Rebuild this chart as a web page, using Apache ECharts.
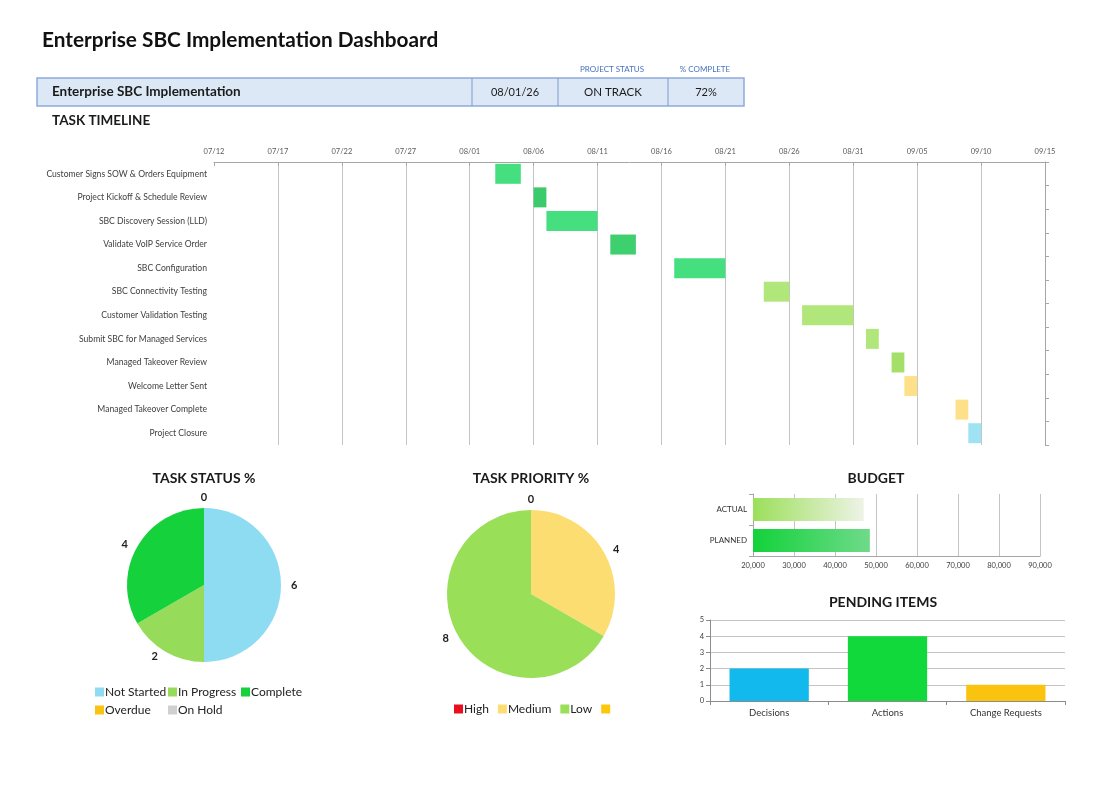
<!DOCTYPE html>
<html>
<head>
<meta charset="utf-8">
<title>Enterprise SBC Implementation Dashboard</title>
<script src="https://cdn.jsdelivr.net/npm/echarts@6/dist/echarts.min.js"></script>
<style>
  html, body { margin: 0; padding: 0; background: #ffffff; }
  #chart-container { width: 1100px; height: 788px; }
</style>
</head>
<body>
<div id="chart-container"></div>
<script>
var dom = document.getElementById("chart-container");
var myChart = echarts.init(dom, null, { renderer: "canvas" });

var FONT = "Lato";

// header row
var projectName = "Enterprise SBC Implementation";
var projectDate = "08/01/26";
var projectStatus = "ON TRACK";
var projectComplete = "72%";

// task timeline
var tasks = [
  "Customer Signs SOW & Orders Equipment",
  "Project Kickoff & Schedule Review",
  "SBC Discovery Session (LLD)",
  "Validate VoIP Service Order",
  "SBC Configuration",
  "SBC Connectivity Testing",
  "Customer Validation Testing",
  "Submit SBC for Managed Services",
  "Managed Takeover Review",
  "Welcome Letter Sent",
  "Managed Takeover Complete",
  "Project Closure"
];
var taskStart = [
  "2026-08-03", "2026-08-06", "2026-08-07", "2026-08-12", "2026-08-17", "2026-08-24",
  "2026-08-27", "2026-09-01", "2026-09-03", "2026-09-04", "2026-09-08", "2026-09-09"
];
var taskEnd = [
  "2026-08-05", "2026-08-07", "2026-08-11", "2026-08-14", "2026-08-21", "2026-08-26",
  "2026-08-31", "2026-09-02", "2026-09-04", "2026-09-05", "2026-09-09", "2026-09-10"
];
var timelineStart = "2026-07-12";
var timelineEnd = "2026-09-15";
var taskColors = [
  "#45DF80", "#3BCB6C", "#45DF80", "#3ECF6F", "#45DF80", "#B1E67A",
  "#B1E67A", "#B1E67A", "#A3DF69", "#FFE08A", "#FFE08A", "#9FE2F3"
];

// task status pie
var statusNames = ["Not Started", "In Progress", "Complete", "Overdue", "On Hold"];
var statusValues = [6, 2, 4, 0, 0];
var statusColors = ["#8EDCF2", "#96DC5A", "#14D13C", "#F9C311", "#D0D0D0"];

// task priority pie
var priorityNames = ["High", "Medium", "Low", " "];
var priorityValues = [0, 4, 8, 0];
var priorityColors = ["#E8101E", "#FCDD72", "#9ADF58", "#FCC80C"];

// budget
var budgetCategories = ["PLANNED", "ACTUAL"];
var budgetValues = [48500, 47000];

// pending items
var pendingCategories = ["Decisions", "Actions", "Change Requests"];
var pendingValues = [2, 4, 1];
var pendingColors = ["#12B9EC", "#12D93B", "#F9C30F"];

function dayNum(s) {
  var p = s.split("-");
  return Date.UTC(+p[0], +p[1] - 1, +p[2]) / 86400000;
}
function pad(n) { return n < 10 ? "0" + n : "" + n; }

var day0 = dayNum(timelineStart);
var dayMax = dayNum(timelineEnd) - day0;
var offsets = taskStart.map(function (s) { return dayNum(s) - day0; });
var durations = taskStart.map(function (s, i) { return dayNum(taskEnd[i]) - dayNum(s); });

function fmtDay(v) {
  var d = new Date((day0 + v) * 86400000);
  return pad(d.getUTCMonth() + 1) + "/" + pad(d.getUTCDate());
}

var gray = "#A6A6A6";
var gridGray = "#C4C4C4";

function chartTitle(text, x, y) {
  return {
    type: "text", x: x, y: y,
    style: {
      text: text, align: "center", verticalAlign: "middle",
      fontFamily: FONT, fontSize: 14, fontWeight: "bold", fill: "#1a1a1a"
    }
  };
}

// a zero slice sits on the top of the pie: centre its value over it
function zeroLabelLayout(params) {
  if (params.text === "0") {
    return { x: params.rect.x + params.rect.width / 2, align: "center", dy: -6 };
  }
}

function legendBase(extra) {
  var l = {
    icon: "rect", itemWidth: 9, itemHeight: 9, itemGap: 6, padding: 0,
    textStyle: { fontSize: 12, color: "#222", padding: [0, 0, 0, -4] }
  };
  for (var k in extra) l[k] = extra[k];
  return l;
}

var option = {
  textStyle: { fontFamily: FONT },
  animation: false,
  graphic: [
    {
      type: "text", x: 42, y: 40,
      style: { text: "Enterprise SBC Implementation Dashboard", verticalAlign: "middle",
        fontFamily: FONT, fontSize: 20.8, fontWeight: "bold", fill: "#111" }
    },
    {
      type: "text", x: 612, y: 69,
      style: { text: "PROJECT STATUS", align: "center", verticalAlign: "middle",
        fontFamily: FONT, fontSize: 8, fill: "#4472C4" }
    },
    {
      type: "text", x: 705, y: 69,
      style: { text: "% COMPLETE", align: "center", verticalAlign: "middle",
        fontFamily: FONT, fontSize: 8, fill: "#4472C4" }
    },
    {
      type: "rect", shape: { x: 37, y: 78, width: 707, height: 28 },
      style: { fill: "#DDE8F7", stroke: "#8EAADB", lineWidth: 1.5 }
    },
    { type: "line", shape: { x1: 472, y1: 78, x2: 472, y2: 106 }, style: { stroke: "#7C9ACB", lineWidth: 1 } },
    { type: "line", shape: { x1: 558, y1: 78, x2: 558, y2: 106 }, style: { stroke: "#7C9ACB", lineWidth: 1 } },
    { type: "line", shape: { x1: 668, y1: 78, x2: 668, y2: 106 }, style: { stroke: "#7C9ACB", lineWidth: 1 } },
    {
      type: "text", x: 52, y: 92,
      style: { text: projectName, verticalAlign: "middle",
        fontFamily: FONT, fontSize: 13.5, fontWeight: "bold", fill: "#1a1a1a" }
    },
    {
      type: "text", x: 515, y: 92,
      style: { text: projectDate, align: "center", verticalAlign: "middle",
        fontFamily: FONT, fontSize: 11, fill: "#1a1a1a" }
    },
    {
      type: "text", x: 613, y: 92,
      style: { text: projectStatus, align: "center", verticalAlign: "middle",
        fontFamily: FONT, fontSize: 11.5, fill: "#1a1a1a" }
    },
    {
      type: "text", x: 706, y: 92,
      style: { text: projectComplete, align: "center", verticalAlign: "middle",
        fontFamily: FONT, fontSize: 11, fill: "#1a1a1a" }
    },
    {
      type: "text", x: 52, y: 121,
      style: { text: "TASK TIMELINE", verticalAlign: "middle",
        fontFamily: FONT, fontSize: 13.5, fontWeight: "bold", fill: "#1a1a1a" }
    },
    chartTitle("TASK STATUS %", 204, 478),
    chartTitle("TASK PRIORITY %", 531, 478),
    chartTitle("BUDGET", 876, 478),
    chartTitle("PENDING ITEMS", 883, 602)
  ],
  legend: [
    legendBase({ data: ["Not Started", "Overdue"], orient: "vertical", left: 95, top: 686 }),
    legendBase({ data: ["In Progress", "On Hold"], orient: "vertical", left: 168, top: 686 }),
    legendBase({ data: ["Complete"], orient: "vertical", left: 241, top: 686 }),
    legendBase({ data: priorityNames, left: 454, top: 703, itemGap: 9 })
  ],
  grid: [
    { left: 214, right: 55, top: 162, bottom: 343 },
    { left: 753, right: 60, top: 494, bottom: 232 },
    { left: 710, right: 35, top: 620, bottom: 87 }
  ],
  xAxis: [
    {
      gridIndex: 0, type: "value", position: "top",
      min: 0, max: dayMax, interval: 5,
      axisLine: { show: true, lineStyle: { color: gray } },
      axisTick: { show: true, inside: true, length: 4, lineStyle: { color: gray } },
      axisLabel: { formatter: fmtDay, fontSize: 7.5, color: "#595959", margin: 6 },
      splitLine: { show: true, showMinLine: false, lineStyle: { color: gridGray } }
    },
    {
      gridIndex: 1, type: "value", min: 20000, max: 90000, interval: 10000,
      axisLine: { show: true, lineStyle: { color: gray } },
      axisTick: { show: false },
      axisLabel: {
        fontSize: 7.5, color: "#404040", margin: 6,
        formatter: function (v) { return v.toLocaleString("en-US"); }
      },
      splitLine: { show: true, lineStyle: { color: gridGray } }
    },
    {
      gridIndex: 2, type: "category", data: pendingCategories,
      axisLine: { show: true, lineStyle: { color: "#8C8C8C" } },
      axisTick: { show: true, length: 4, lineStyle: { color: "#8C8C8C" } },
      axisLabel: { fontSize: 9.5, color: "#333", margin: 7 }
    }
  ],
  yAxis: [
    {
      gridIndex: 0, type: "category", data: tasks, inverse: true,
      axisLine: { show: false }, axisTick: { show: false },
      axisLabel: { fontSize: 8.6, color: "#404040", margin: 7 }
    },
    {
      gridIndex: 0, type: "category", data: tasks, inverse: true, position: "right",
      axisLine: { show: true, lineStyle: { color: gray } },
      axisTick: { show: true, length: 4, lineStyle: { color: gray } },
      axisLabel: { show: false }
    },
    {
      gridIndex: 1, type: "category", data: budgetCategories,
      axisLine: { show: true, lineStyle: { color: gray } },
      axisTick: { show: true, length: 4, lineStyle: { color: gray } },
      axisLabel: { fontSize: 8, color: "#333", margin: 6 }
    },
    {
      gridIndex: 2, type: "value", min: 0, max: 5, interval: 1,
      axisLine: { show: true, lineStyle: { color: "#8C8C8C" } },
      axisTick: { show: true, length: 4, lineStyle: { color: "#8C8C8C" } },
      axisLabel: { fontSize: 7.5, color: "#404040", margin: 6 },
      splitLine: { show: true, lineStyle: { color: gridGray } }
    }
  ],
  series: [
    {
      name: "Offset", type: "bar", xAxisIndex: 0, yAxisIndex: 0,
      stack: "gantt", silent: true, barWidth: 20,
      itemStyle: { color: "transparent" },
      data: offsets
    },
    {
      name: "Duration", type: "bar", xAxisIndex: 0, yAxisIndex: 0,
      stack: "gantt", barWidth: 20,
      data: durations.map(function (d, i) {
        return { value: d, itemStyle: { color: taskColors[i] } };
      })
    },
    {
      name: "Task Status", type: "pie", center: [204, 585], radius: 77,
      startAngle: 90, clockwise: true, avoidLabelOverlap: false,
      label: { position: "outside", formatter: "{c}", fontSize: 11, color: "#222", fontWeight: "bold" },
      labelLine: { show: false, length: 5, length2: 0 },
      labelLayout: zeroLabelLayout,
      data: statusNames.map(function (n, i) {
        var item = { name: n, value: statusValues[i], itemStyle: { color: statusColors[i] } };
        if (n === "On Hold") item.label = { show: false };
        return item;
      })
    },
    {
      name: "Task Priority", type: "pie", center: [531, 594], radius: 84,
      startAngle: 90, clockwise: true, avoidLabelOverlap: false,
      label: { position: "outside", formatter: "{c}", fontSize: 11, color: "#222", fontWeight: "bold" },
      labelLine: { show: false, length: 5, length2: 0 },
      labelLayout: zeroLabelLayout,
      data: priorityNames.map(function (n, i) {
        var item = { name: n, value: priorityValues[i], itemStyle: { color: priorityColors[i] } };
        if (i === 3) item.label = { show: false };
        return item;
      })
    },
    {
      name: "Budget", type: "bar", xAxisIndex: 1, yAxisIndex: 2, barWidth: 23,
      data: [
        {
          value: budgetValues[0],
          itemStyle: { color: { type: "linear", x: 0, y: 0, x2: 1, y2: 0,
            colorStops: [{ offset: 0, color: "#12D23A" }, { offset: 1, color: "#6FDA8A" }] } }
        },
        {
          value: budgetValues[1],
          itemStyle: { color: { type: "linear", x: 0, y: 0, x2: 1, y2: 0,
            colorStops: [{ offset: 0, color: "#9BDF5A" }, { offset: 1, color: "#EEF3E6" }] } }
        }
      ]
    },
    {
      name: "Pending Items", type: "bar", xAxisIndex: 2, yAxisIndex: 3, barWidth: "67%",
      data: pendingValues.map(function (v, i) {
        return { value: v, itemStyle: { color: pendingColors[i] } };
      })
    }
  ]
};

if (option && typeof option === "object") {
  myChart.setOption(option);
}

window.addEventListener("resize", myChart.resize);
</script>
</body>
</html>
